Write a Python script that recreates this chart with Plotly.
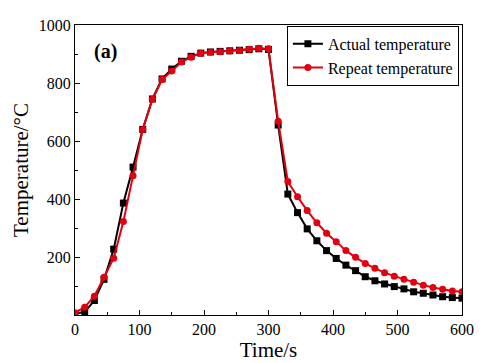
import plotly.graph_objects as go

time_s = [0, 15, 30, 45, 60, 75, 90, 105, 120, 135, 150, 165, 180, 195, 210, 225, 240, 255, 270, 285,
          300, 315, 330, 345, 360, 375, 390, 405, 420, 435, 450, 465, 480, 495, 510, 525, 540, 555, 570, 585, 600]

actual_temp = [5, 10, 50, 123, 227, 386, 510, 640, 745, 814, 848, 875, 892, 903, 907, 909, 911, 913, 915, 918,
               916, 655, 417, 353, 297, 256, 222, 195, 172, 153, 132, 118, 107, 98, 90, 80, 75, 69, 63, 60, 58]

repeat_temp = [8, 27, 65, 130, 196, 322, 480, 640, 744, 812, 841, 872, 889, 903, 906, 908, 910, 912, 916, 920,
               918, 668, 460, 408, 360, 318, 282, 253, 222, 199, 178, 161, 146, 134, 123, 113, 103, 95, 89, 83, 80]

series_names = ["Actual temperature", "Repeat temperature"]
x_ticks = [0, 100, 200, 300, 400, 500, 600]
y_ticks = [200, 400, 600, 800, 1000]

FONT = "Liberation Serif"

fig = go.Figure()
fig.add_trace(go.Scatter(
    x=time_s, y=actual_temp, name=series_names[0], mode="lines+markers",
    line=dict(color="black", width=2),
    marker=dict(symbol="square", size=7, color="black"),
))
fig.add_trace(go.Scatter(
    x=time_s, y=repeat_temp, name=series_names[1], mode="lines+markers",
    line=dict(color="#e3000f", width=2),
    marker=dict(symbol="circle", size=7, color="#e3000f"),
))

axis_common = dict(
    showline=True, linecolor="black", linewidth=1, mirror=True, automargin=False,
    ticks="inside", ticklen=5, tickcolor="black", showgrid=False, zeroline=False,
    tickfont=dict(family=FONT, size=16, color="black"),
)

fig.update_xaxes(
    range=[0, 600], tickvals=x_ticks,
    minor=dict(ticks="inside", ticklen=3, tickcolor="black", dtick=50, tick0=0),
    title=dict(text="Time/s", font=dict(family=FONT, size=21, color="black"), standoff=3),
    **axis_common,
)
fig.update_yaxes(
    range=[0, 1000], tickvals=y_ticks,
    minor=dict(ticks="inside", ticklen=3, tickcolor="black", dtick=100, tick0=0),
    title=dict(text="Temperature/°C", font=dict(family=FONT, size=21, color="black"), standoff=4),
    **axis_common,
)

fig.add_annotation(
    x=0.045, y=0.91, xref="paper", yref="paper", text="<b>(a)</b>", showarrow=False,
    xanchor="left", yanchor="middle", font=dict(family=FONT, size=20, color="black"),
)

fig.update_layout(
    width=485, height=363,
    margin=dict(l=75, r=23, t=25, b=48),
    paper_bgcolor="white", plot_bgcolor="white",
    showlegend=True,
    legend=dict(
        x=0.992, y=0.997, xanchor="right", yanchor="top",
        bordercolor="black", borderwidth=1, bgcolor="white",
        font=dict(family=FONT, size=16, color="black"),
        tracegroupgap=0, itemwidth=30,
    ),
)

fig.write_html("out.html", config={"displayModeBar": False},
               post_script="document.body.style.margin='0';")
